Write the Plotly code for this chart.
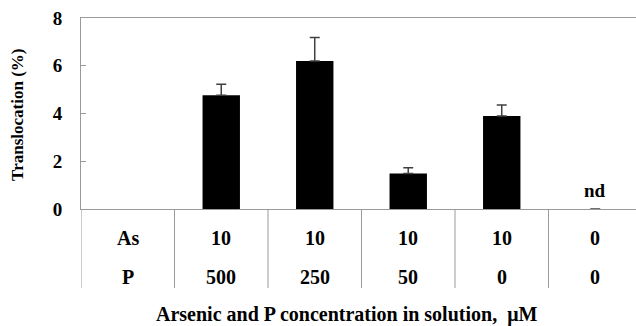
import plotly.graph_objects as go

# Data
categories = [1, 2, 3, 4, 5]
translocation = [4.76, 6.20, 1.49, 3.90, 0.0]
error_plus = [0.46, 0.98, 0.24, 0.46, 0.0]
row_labels = ["As", "P"]
as_values = ["10", "10", "10", "10", "0"]
p_values = ["500", "250", "50", "0", "0"]
y_ticks = [0, 2, 4, 6, 8]

FONT = "Liberation Serif"
GRID = "#9a9a9a"


def b(t):
    return "<b>" + t + "</b>"


fig = go.Figure()
fig.add_trace(go.Bar(
    x=categories, y=translocation, width=0.4,
    marker=dict(color="black", line=dict(width=0)),
    error_y=dict(type="data", symmetric=False, array=error_plus,
                 arrayminus=[0] * len(error_plus),
                 color="#404040", thickness=1.5, width=5),
    showlegend=False,
))

# table below the axis
row_y = [-0.152, -0.355]
for ry, lab, vals in zip(row_y, row_labels, [as_values, p_values]):
    fig.add_annotation(x=0, y=ry, xref="x", yref="paper", text=b(lab), showarrow=False,
                       xanchor="center", yanchor="middle",
                       font=dict(family=FONT, size=20, color="black"))
    for c, v in zip(categories, vals):
        fig.add_annotation(x=c, y=ry, xref="x", yref="paper", text=b(v), showarrow=False,
                           xanchor="center", yanchor="middle",
                           font=dict(family=FONT, size=20, color="black"))

# separators in the table area
for bx in [-0.5, 0.5, 1.5, 2.5, 3.5, 4.5]:
    fig.add_shape(type="line", xref="x", yref="paper", x0=bx, x1=bx, y0=0, y1=-0.414,
                  line=dict(color=GRID, width=1))

# nd label
fig.add_annotation(x=5, y=0.77, xref="x", yref="y", text=b("nd"), showarrow=False,
                   xanchor="center", yanchor="middle",
                   font=dict(family=FONT, size=19, color="black"))

# axis titles
fig.add_annotation(x=0.4775, y=-0.553, xref="paper", yref="paper",
                   xanchor="center", yanchor="middle",
                   text=b("Arsenic and P concentration in solution,  \u03bcM"), showarrow=False,
                   font=dict(family=FONT, size=20, color="black"))
fig.add_annotation(x=-0.1144, y=0.49, xref="paper", yref="paper", textangle=-90,
                   xanchor="center", yanchor="middle",
                   text=b("Translocation (%)"), showarrow=False,
                   font=dict(family=FONT, size=17, color="black"))

fig.update_layout(
    width=636, height=326,
    margin=dict(l=81, r=0, t=18, b=117),
    paper_bgcolor="white", plot_bgcolor="white",
    font=dict(family=FONT, color="black"),
    xaxis=dict(range=[-0.5, 5.436], showticklabels=False, ticks="",
               showgrid=False, zeroline=False, showline=True, mirror=True,
               linecolor=GRID, linewidth=1),
    yaxis=dict(range=[0, 8], tickvals=y_ticks, ticktext=[b(str(t)) for t in y_ticks],
               ticks="inside", ticklen=5,
               tickcolor=GRID, showgrid=False, zeroline=False, showline=True,
               linecolor=GRID, linewidth=1, ticklabelstandoff=14,
               tickfont=dict(family=FONT, size=19, color="black")),
)

fig.write_html("out.html", config={"displayModeBar": False},
               post_script="document.body.style.margin='0px';")
